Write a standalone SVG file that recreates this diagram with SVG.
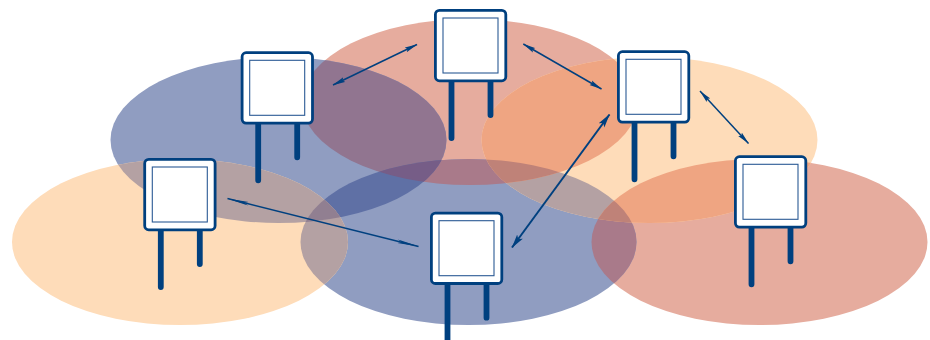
<svg xmlns="http://www.w3.org/2000/svg" width="930" height="340" viewBox="0 0 930 340">
<style>
.f{fill:#fff;stroke:#00407f;stroke-width:2.8}
.i{fill:#fff;stroke:#2b5a94;stroke-width:1.1}
.l{stroke:#00407f;stroke-width:5.8;stroke-linecap:round;fill:none}
.a{stroke:#00407f;stroke-width:1.5;fill:none;marker-start:url(#h);marker-end:url(#h)}
.a2{stroke:#00407f;stroke-width:2;fill:none;marker-start:url(#h2);marker-end:url(#h2)}
.a3{stroke:#00407f;stroke-width:1.5;fill:none;marker-start:url(#h3);marker-end:url(#h3)}
</style>
<defs>
<marker id="h" viewBox="0 0 13 6" refX="12.500" refY="3" markerWidth="13" markerHeight="6" markerUnits="userSpaceOnUse" orient="auto-start-reverse"><path d="M0 .5L13 3L0 5.500L2 3Z" fill="#00407f"/></marker>
<marker id="h2" viewBox="0 0 14 8" refX="13.500" refY="4" markerWidth="14" markerHeight="8" markerUnits="userSpaceOnUse" orient="auto-start-reverse"><path d="M0 .5L14 4L0 7.500L3 4Z" fill="#00407f"/></marker>
<marker id="h3" viewBox="0 0 22 4" refX="21.500" refY="2" markerWidth="22" markerHeight="4" markerUnits="userSpaceOnUse" orient="auto-start-reverse"><path d="M0 .2L22 2L0 3.800L4 2Z" fill="#00407f"/></marker>
<g id="n"><path class="l" d="M17.500 72V129M56.500 72V106"/><rect class="f" x="1.400" y="1.400" width="70.400" height="70.400" rx="4"/><rect class="i" x="9" y="9" width="55" height="55"/></g>
<ellipse id="eRR" cx="759.500" cy="242" rx="168" ry="83"/>
<ellipse id="eTR" cx="470" cy="102" rx="168" ry="83"/>
<ellipse id="eLB" cx="278.500" cy="140" rx="168" ry="83"/>
<ellipse id="eBB" cx="468.500" cy="242" rx="168" ry="83"/>
<ellipse id="eLP" cx="180" cy="242" rx="168" ry="83"/>
<ellipse id="eRP" cx="649.500" cy="140" rx="168" ry="83"/>
<clipPath id="cRR"><use href="#eRR"/></clipPath>
<clipPath id="cTR"><use href="#eTR"/></clipPath>
<clipPath id="cLB"><use href="#eLB"/></clipPath>
<clipPath id="cBB"><use href="#eBB"/></clipPath>
<clipPath id="cLP"><use href="#eLP"/></clipPath>
<clipPath id="cRP"><use href="#eRP"/></clipPath>
</defs>
<g id="cells">
<use href="#eRR" fill="#e6ac9e"/>
<use href="#eTR" fill="#e6ac9e"/>
<use href="#eLB" fill="#909dc1"/>
<use href="#eBB" fill="#909dc1"/>
<use href="#eLP" fill="#fedcb9"/>
<use href="#eRP" fill="#fedcb9"/>
<use href="#eTR" fill="#917590" clip-path="url(#cLB)"/>
<use href="#eTR" fill="#a97a8a" clip-path="url(#cBB)"/>
<use href="#eRR" fill="#a97a8a" clip-path="url(#cBB)"/>
<use href="#eLB" fill="#5f70a5" clip-path="url(#cBB)"/>
<use href="#eLP" fill="#b4a1a3" clip-path="url(#cLB)"/>
<use href="#eLP" fill="#b4a1a3" clip-path="url(#cBB)"/>
<use href="#eRP" fill="#b4a1a3" clip-path="url(#cBB)"/>
<use href="#eRP" fill="#efa582" clip-path="url(#cTR)"/>
<use href="#eRP" fill="#efa582" clip-path="url(#cRR)"/>
<g clip-path="url(#cBB)"><use href="#eLB" fill="#765d87" clip-path="url(#cTR)"/>
<use href="#eLP" fill="#917f91" clip-path="url(#cLB)"/>
<use href="#eRP" fill="#bf8278" clip-path="url(#cTR)"/>
<use href="#eRP" fill="#bf8278" clip-path="url(#cRR)"/></g>
</g>
<g id="node1"><use href="#n" x="143.300" y="158"/></g>
<g id="node2"><use href="#n" x="240.700" y="51.300"/></g>
<g id="node3"><use href="#n" x="434" y="9"/></g>
<g id="node4"><use href="#n" x="617" y="50.300"/></g>
<g id="node5"><use href="#n" x="734" y="155.300"/></g>
<g id="node6"><use href="#n" x="430" y="211.700"/></g>
<g id="connectors">
<path class="a" d="M333 85L417 44.500"/>
<path class="a" d="M523.300 44L601.500 89"/>
<path class="a2" d="M609.500 114.500L512 247.500"/>
<path class="a" d="M700 91L748.500 143.500"/>
<path class="a3" d="M227.500 198.500L418.500 246.500"/>
</g>
</svg>
